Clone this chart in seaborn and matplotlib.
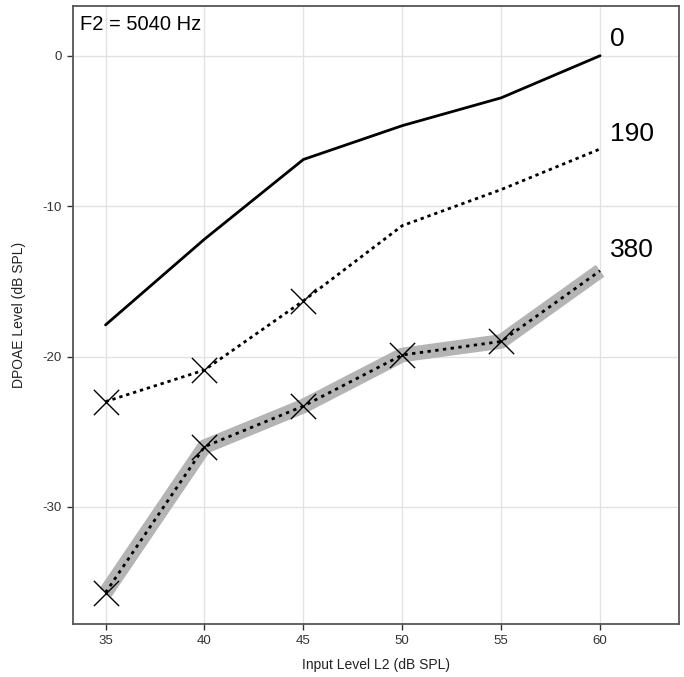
import numpy as np
import pandas as pd
import matplotlib
matplotlib.use("Agg")
import matplotlib.pyplot as plt
import seaborn as sns

# Data
levels = [35, 40, 45, 50, 55, 60]
dpoae_0 = [-17.9, -12.2, -6.9, -4.65, -2.8, 0.0]
dpoae_190 = [-23.0, -20.9, -16.3, -11.3, -8.9, -6.2]
dpoae_380 = [-35.7, -26.0, -23.3, -19.9, -19.0, -14.3]

# points marked with an X
marked_190 = [35, 40, 45]
marked_380 = [35, 40, 45, 50, 55]

series_labels = ["0", "190", "380"]

sns.set_theme(style="whitegrid")
plt.rcParams['font.family'] = ['Liberation Sans', 'DejaVu Sans']
plt.rcParams['axes.unicode_minus'] = False

df = pd.DataFrame({
    'level': levels * 3,
    'dpoae': dpoae_0 + dpoae_190 + dpoae_380,
    'series': [s for s in series_labels for _ in levels],
})

fig = plt.figure(figsize=(6.84, 6.77), dpi=100)
ax = fig.add_axes([0.106, 0.078, 0.887, 0.913])

d0 = df[df['series'] == '0']
d190 = df[df['series'] == '190']
d380 = df[df['series'] == '380']

# thick gray band behind the 380 series
sns.lineplot(data=d380, x='level', y='dpoae', color='#b4b4b4', linewidth=10.5,
             solid_capstyle='butt', ax=ax, zorder=2)
sns.lineplot(data=d0, x='level', y='dpoae', color='black', linewidth=2.0, ax=ax, zorder=3)
sns.lineplot(data=d190, x='level', y='dpoae', color='black', linewidth=2.0,
             linestyle=(0, (1.2, 1.4)), ax=ax, zorder=3)
sns.lineplot(data=d380, x='level', y='dpoae', color='black', linewidth=2.0,
             linestyle=(0, (1.2, 1.6)), ax=ax, zorder=3)

m190 = d190[d190['level'].isin(marked_190)]
m380 = d380[d380['level'].isin(marked_380)]
for m in (m190, m380):
    sns.scatterplot(data=m, x='level', y='dpoae', marker='x', s=330, color='black',
                    linewidth=1.0, ax=ax, zorder=4)

# end labels
for lab, ypos in zip(series_labels, [1.1, -5.2, -12.9]):
    ax.text(60.5, ypos, lab, fontsize=19, ha='left', va='center', color='black')

ax.text(33.7, 2.1, "F2 = 5040 Hz", fontsize=14.5, ha='left', va='center', color='black')

ax.set_xlim(33.33, 64)
ax.set_ylim(-37.8, 3.3)
ax.set_xticks(levels)
ax.set_yticks([0, -10, -20, -30])
ax.set_xlabel('Input Level L2 (dB SPL)', fontsize=10, color='#222222', labelpad=8)
ax.set_ylabel('DPOAE Level (dB SPL)', fontsize=10, color='#222222', labelpad=12)
ax.tick_params(axis='both', labelsize=9.5, colors='#333333', length=4, width=1,
               direction='out', left=True, bottom=True)
ax.grid(True, color='#e2e2e2', linewidth=1.0)
for sp in ax.spines.values():
    sp.set_color('#555555')
    sp.set_linewidth(1.3)

plt.savefig('out.png', dpi=100)
